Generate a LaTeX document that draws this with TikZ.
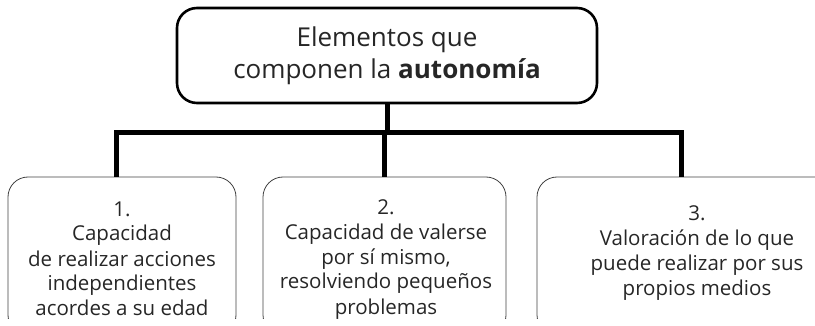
\documentclass[tikz,border=0pt]{standalone}
\usepackage{fontspec}
\setmainfont{Open Sans}
\usetikzlibrary{calc}
\begin{document}
\begin{tikzpicture}[x=1pt,y=-1pt,
  topbox/.style={draw=black,line width=2.6pt,rounded corners=20pt,minimum width=420pt,minimum height=95pt,inner sep=0pt,align=center,font=\fontsize{26}{32}\selectfont,text=black!85},
  subbox/.style={draw=black!75,line width=0.8pt,rounded corners=20pt,minimum height=158pt,inner sep=0pt},
  conn/.style={line width=5pt,black,line join=miter},
  lbl/.style={align=center,font=\fontsize{20.5}{25}\selectfont,text=black!85,anchor=base,inner sep=0pt},
]
\useasboundingbox (0,0) rectangle (815,326);
\node[topbox] (top) at (387,55.5) {Elementos que\\componen la \textbf{autonomía}};
\begin{scope}
\clip (0,0) rectangle (815,318);
\node[subbox,minimum width=228pt] (b1) at (122,256) {};
\node[subbox,minimum width=243pt] (b2) at (384.5,256) {};
\node[subbox,minimum width=323pt] (b3) at (698.5,256) {};
\end{scope}
\coordinate (bar) at (0,133);
\draw[conn] (top.south) -- (top.south |- bar);
\draw[conn] ([xshift=-6pt]b1.north) -- ([xshift=-6pt]b1.north |- bar) -- ([xshift=-17pt]b3.north |- bar) -- ([xshift=-17pt]b3.north);
\draw[conn] (b2.north) -- (b2.north |- bar);
\node[lbl] (t1) at (122,316) {1.\\Capacidad\\de realizar acciones\\independientes\\acordes a su edad};
\node[lbl] (t2) at (386,314) {2.\\Capacidad de valerse\\por sí mismo,\\resolviendo pequeños\\problemas};
\node[lbl] (t3) at (697,295) {3.\\Valoración de lo que\\puede realizar por sus\\propios medios};
\end{tikzpicture}
\end{document}
